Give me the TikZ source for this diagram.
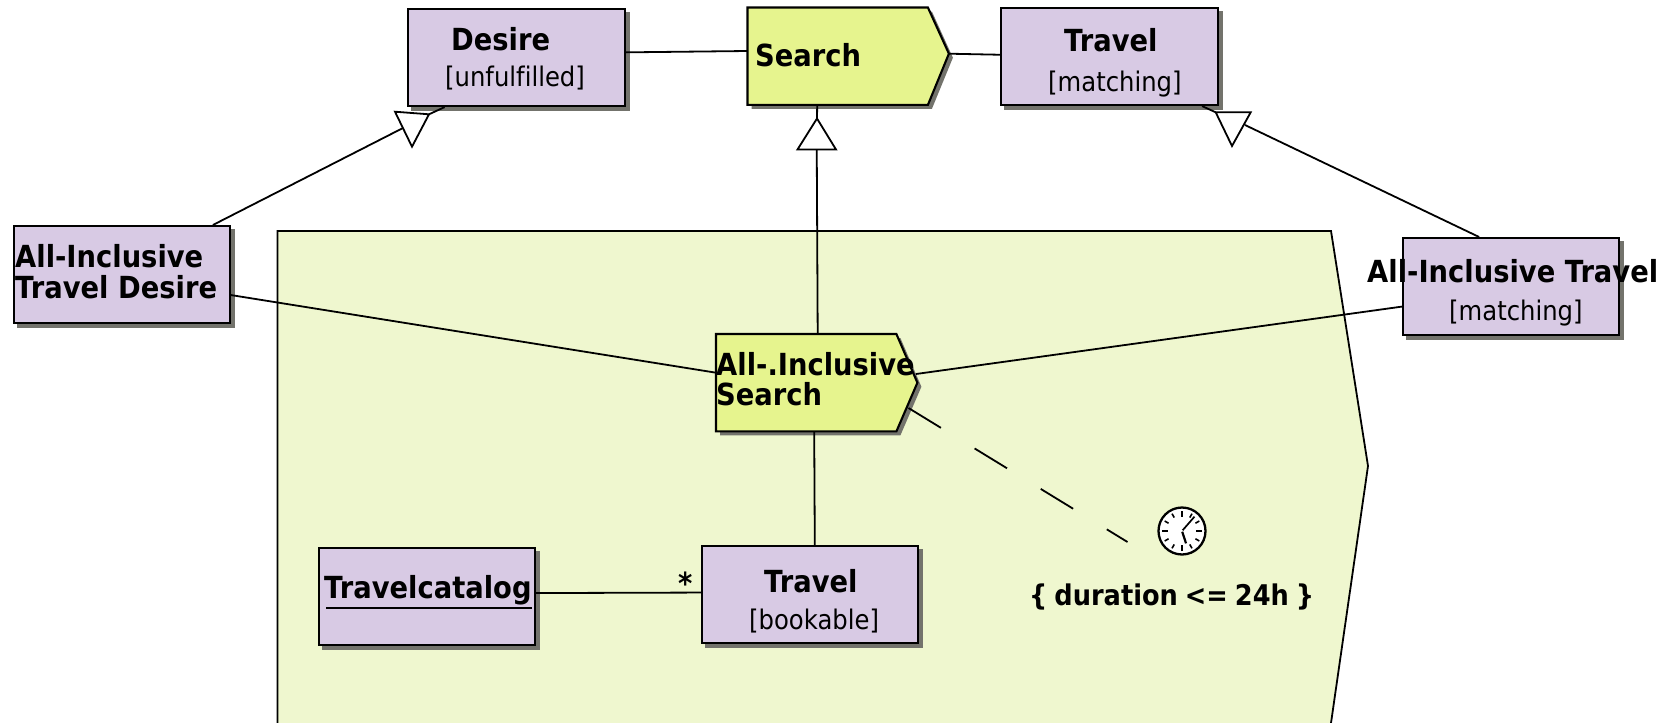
\documentclass[tikz,border=0pt]{standalone}
\usepackage{fontspec}
\setmainfont{DejaVu Sans}[FakeStretch=0.9]
\newfontfamily\lightf{DejaVu Sans}[FakeStretch=0.9]
\usetikzlibrary{calc}
\definecolor{boxc}{HTML}{D8CAE4}
\definecolor{actc}{HTML}{E6F48E}
\definecolor{pkgc}{HTML}{EFF7CF}
\definecolor{shadc}{HTML}{73736C}
\newcommand{\consfont}{\fontsize{28.5}{30}\selectfont\bfseries\spaceskip=7pt\relax}
\tikzset{x=1pt,y=-1pt,
 ln/.style={draw=black,line width=1.8pt},
 boxn/.style={rectangle,draw=black,fill=boxc,line width=2.1pt,inner sep=0pt,anchor=north west,minimum width=#1,minimum height=97pt},
 actn/.style={rectangle,inner sep=0pt,anchor=north west,minimum width=#1,minimum height=97pt},
 actf/.style={draw=black,fill=actc,line width=2.1pt,line join=miter},
 shad/.style={fill=shadc,draw=none},
 ttl/.style={font=\fontsize{30.4}{31}\selectfont\bfseries,inner sep=0pt,anchor=base west},
 sub/.style={font=\lightf\fontsize{27}{28}\selectfont,inner sep=0pt,anchor=base west},
 cons/.style={font=\consfont,inner sep=0pt,anchor=base west},
 head/.style={draw=black,fill=white,line width=1.8pt,line join=miter}}
\newcommand{\shbox}[1]{\fill[shad] ([xshift=4pt,yshift=-4pt]#1.north west) rectangle ([xshift=4pt,yshift=-4pt]#1.south east);}
\newcommand{\actpath}[2]{(#1.north west) -- ([xshift=-21pt]#1.north east) -- ([yshift=#2]#1.east) -- ([xshift=-21pt]#1.south east) -- (#1.south west) -- cycle}
\begin{document}
\begin{tikzpicture}
\useasboundingbox (0,0) rectangle (1674,723);
% package
\begin{scope}
\clip (0,0) rectangle (1674,723);
\coordinate (pa) at (277.5,231);
\coordinate (pb) at (1331,231);
\coordinate (pc) at (1368,466);
\coordinate (pd) at (1331,723);
\coordinate (pe) at (277.5,723);
\draw[ln,fill=pkgc] (pe) -- (pa) -- (pb) -- (pc) -- (pd) -- ++(0,10) -- ($(pe)+(0,10)$) -- cycle;
\end{scope}
% boxes (invisible placement first, so that shadows can go underneath)
\node[boxn=216.5pt,draw=none,fill=none] (desire0) at (407.3,8) {};
\node[boxn=216.5pt,draw=none,fill=none] (travel0) at (1000.3,7) {};
\node[boxn=215.5pt,draw=none,fill=none] (aidesire0) at (13.3,225) {};
\node[boxn=215.5pt,draw=none,fill=none] (aitravel0) at (1402.3,237) {};
\node[boxn=215.5pt,draw=none,fill=none] (catalog0) at (318,546.5) {};
\node[boxn=215.5pt,draw=none,fill=none] (bookable0) at (701,545) {};
\shbox{desire0}\shbox{travel0}\shbox{aidesire0}\shbox{aitravel0}\shbox{catalog0}\shbox{bookable0}
\node[boxn=216.5pt] (desire) at (407.3,8) {};
\node[boxn=216.5pt] (travel) at (1000.3,7) {};
\node[boxn=215.5pt] (aidesire) at (13.3,225) {};
\node[boxn=215.5pt] (aitravel) at (1402.3,237) {};
\node[boxn=215.5pt] (catalog) at (318,546.5) {};
\node[boxn=215.5pt] (bookable) at (701,545) {};
% activities
\node[actn=201pt] (search) at (747.5,7.5) {};
\node[actn=201pt] (aisearch) at (716,334) {};
\begin{scope}[transform canvas={xshift=4pt,yshift=-4pt}]
\fill[shad] \actpath{search}{2.5pt};
\fill[shad] \actpath{aisearch}{0pt};
\end{scope}
\draw[actf] \actpath{search}{2.5pt};
\draw[actf] \actpath{aisearch}{0pt};
% connectors
\draw[ln] ([yshift=5.2pt]desire.east) -- ([yshift=5.2pt]search.west);
\draw[ln] ([yshift=2.5pt]search.east) -- ([yshift=1.8pt]travel.west);
\coordinate (t1a) at (395,111.7); \coordinate (t1b) at (429,114.3); \coordinate (t1c) at (412,146.7);
\coordinate (t2a) at (1215.7,112.3); \coordinate (t2b) at (1250.7,112.3); \coordinate (t2c) at (1232,146);
\coordinate (t3a) at (817,118.5); \coordinate (t3b) at (797.5,149.5); \coordinate (t3c) at (836,149.5);
\coordinate (e1) at (403,128); \coordinate (e2) at (1245,125);
\draw[ln] ([xshift=-18pt]aidesire.north east) -- (e1);
\draw[ln] (t1b) -- ([xshift=-72pt]desire.south);
\draw[ln] ([xshift=-32pt]aitravel.north) -- (e2);
\draw[ln] (t2a) -- ([xshift=92.5pt]travel.south);
\draw[ln] ([xshift=-31pt]search.south) -- (t3a);
\draw[ln] ($(t3b)!0.5!(t3c)$) -- ([xshift=1pt]aisearch.north);
\draw[head] (t1a) -- (t1b) -- (t1c) -- cycle;
\draw[head] (t2a) -- (t2b) -- (t2c) -- cycle;
\draw[head] (t3a) -- (t3b) -- (t3c) -- cycle;
\draw[ln] ([yshift=-20.5pt]aidesire.east) -- ([yshift=10pt]aisearch.west);
\coordinate (ar) at (916,374);
\draw[ln] (ar) -- ([yshift=-20pt]aitravel.west);
\draw[ln] ([xshift=-2.5pt]aisearch.south) -- ([xshift=5pt]bookable.north);
\draw[ln] ([yshift=3pt]catalog.east) -- ([yshift=2pt]bookable.west);
\node[inner sep=0pt] (dclock) at (1182,531) {};
\coordinate (d0) at (908.5,408);
\coordinate (d1) at (1127.5,542);
\draw[ln,dash pattern=on 38pt off 39.5pt] (d0) -- (d1);
% clock
\draw[black,fill=white,line width=2.3pt] (dclock) circle (23.5);
\foreach \a in {0,30,...,330} {\draw[black,line width=1.6pt] ($(dclock)+(\a:20)$) -- ($(dclock)+(\a:15.5)$);}
\foreach \a in {0,90,180,270} {\draw[black,line width=2.8pt] ($(dclock)+(\a:20)$) -- ($(dclock)+(\a:14)$);}
\draw[black,line width=1.7pt] (dclock) -- ($(dclock)+(-49:19)$);
\draw[black,line width=2.2pt] (dclock) -- ($(dclock)+(72:13)$);
% text
\node[ttl] (t1) at (451,50) {Desire};
\node[sub] (t2) at (445,86) {[unfulf\kern0pt illed]};
\node[ttl] (t3) at (755,66) {Search};
\node[ttl] (t4) at (1064,51) {Travel};
\node[sub] (t5) at (1048,91) {[matching]};
\node[ttl] (t6) at (15,267) {All-Inclusive};
\node[ttl] (t7) at (15,298) {Travel Desire};
\node[ttl] (t8) at (1367,282) {All-Inclusive Travel};
\node[sub] (t9) at (1449,320) {[matching]};
\node[ttl] (t10) at (716,375) {All-.Inclusive};
\node[ttl] (t11) at (716,405) {Search};
\node[ttl] (t12) at (324,598) {Travelcatalog};
\draw[black,line width=1.6pt] ([yshift=-10pt,xshift=2pt]t12.base west) -- ([yshift=-10pt]t12.base east);
\node[ttl] (t13) at (764,592) {Travel};
\node[sub] (t14) at (749,629) {[bookable]};
\node[ttl] (t15) at (678,594) {*};
\node[cons] (t16) at (1029,605) {\{ duration <= 24h \}};
\end{tikzpicture}
\end{document}
